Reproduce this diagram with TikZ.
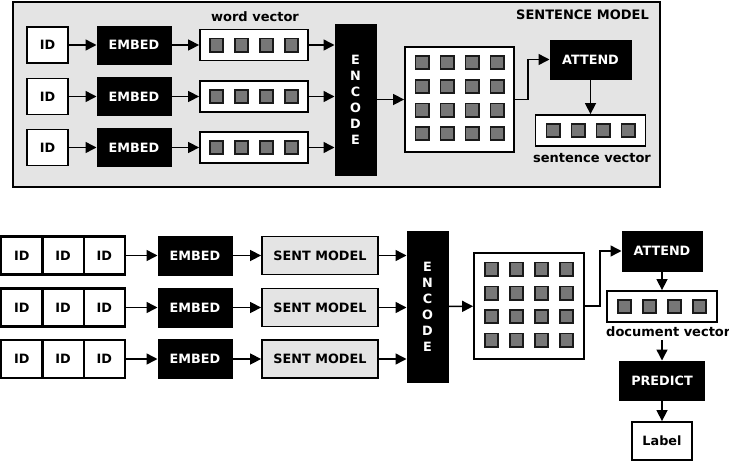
\documentclass[tikz,border=0pt]{standalone}
\usepackage{fontspec}
\setmainfont{DejaVu Sans}
\usetikzlibrary{arrows.meta,calc}
\definecolor{panel}{HTML}{E4E4E4}
\definecolor{sqfill}{HTML}{777777}
\definecolor{sqline}{HTML}{1A1A1A}
\tikzset{
  txt/.style={font=\bfseries\fontsize{12.8}{14}\selectfont},
  wbox/.style={txt, draw=black, line width=1.8pt, fill=white, inner sep=0pt},
  bbox/.style={txt, draw=black, line width=1pt, fill=black, text=white, inner sep=0pt},
  gbox/.style={txt, draw=black, line width=1.8pt, fill=panel, inner sep=0pt},
  sqr/.style={draw=sqline, fill=sqfill, line width=1.8pt, minimum size=13.2pt, inner sep=0pt},
  arr/.style={line width=1.5pt, -{Triangle[length=11pt,width=11pt]}},
  lbl/.style={font=\bfseries\fontsize{13}{15}\selectfont, inner sep=0pt},
  vtxt/.style={align=center, font=\bfseries\fontsize{12.8}{16}\selectfont},
}
\begin{document}
\begin{tikzpicture}[x=1pt,y=-1pt]
\useasboundingbox (0,0) rectangle (729,461);
\fill[white] (0,0) rectangle (729,461);
% ---------- sentence model panel ----------
\node[draw=black, line width=1.8pt, fill=panel, minimum width=647pt, minimum height=185pt, inner sep=0pt] (panel) at (336.5,94.5) {};
\node[lbl, anchor=east] (smtitle) at (649,15) {SENTENCE MODEL};
\node[lbl] (wvlabel) at (255,17) {word vector};
\foreach \r/\y in {1/45,2/96.5,3/147.5}{
  \node[wbox, minimum width=41pt, minimum height=36pt] (id\r) at (47.5,\y) {ID};
  \node[bbox, minimum width=74pt, minimum height=38pt] (em\r) at (134,\y) {EMBED};
  \node[wbox, minimum width=108pt, minimum height=31pt] (wv\r) at (254,\y) {};
  \foreach \k/\dx in {1/-37.5,2/-12.5,3/12.5,4/37.5}
    \node[sqr] (wv\r s\k) at ($(wv\r.center)+(\dx,0)$) {};
}
\node[bbox, vtxt, minimum width=41pt, minimum height=151pt] (enc) at (355.5,99.5) {E\\N\\C\\O\\D\\E};
\node[wbox, minimum width=109pt, minimum height=105pt] (mat) at (459.5,99.5) {};
\foreach \i/\dy in {1/-37,2/-13,3/10.5,4/34}
  \foreach \k/\dx in {1/-37.5,2/-12.5,3/12.5,4/37.5}
    \node[sqr] (m\i\k) at ($(mat.center)+(\dx,\dy)$) {};
\node[bbox, minimum width=81pt, minimum height=39pt] (att) at (590.5,59.5) {ATTEND};
\node[wbox, minimum width=110pt, minimum height=31pt] (sv) at (590.5,130.5) {};
\foreach \k/\dx in {1/-37.5,2/-12.5,3/12.5,4/37.5}
  \node[sqr] (svs\k) at ($(sv.center)+(\dx,0)$) {};
\node[lbl] (svlabel) at (592,158) {sentence vector};
\foreach \r in {1,2,3}{
  \draw[arr] (id\r) -- (em\r);
  \draw[arr] (em\r) -- (wv\r);
  \draw[arr] (wv\r.east) -- (wv\r.east -| enc.west);
}
\draw[arr] (enc) -- (mat);
\coordinate (c1) at ($(mat.east)+(13,0)$);
\draw[arr] (mat.east) -- (c1) |- (att.west);
\draw[arr] (att) -- (sv);
% ---------- document model ----------
\foreach \r/\y in {1/255.5,2/307.5,3/359}{
  \node[wbox, line width=2.3pt, minimum width=41.3pt, minimum height=38pt] (a\r) at (21.7,\y) {ID};
  \node[wbox, line width=2.3pt, minimum width=41.3pt, minimum height=38pt] (b\r) at (63,\y) {ID};
  \node[wbox, line width=2.3pt, minimum width=41.3pt, minimum height=38pt] (c\r) at (104.3,\y) {ID};
  \node[bbox, minimum width=74pt, minimum height=39pt] (de\r) at (195,\y) {EMBED};
  \node[gbox, minimum width=116pt, minimum height=38pt] (sm\r) at (320,\y) {SENT MODEL};
  \draw[arr] (c\r) -- (de\r);
  \draw[arr] (de\r) -- (sm\r);
}
\node[bbox, vtxt, minimum width=41pt, minimum height=151pt] (denc) at (427.5,306.5) {E\\N\\C\\O\\D\\E};
\foreach \r in {1,2,3}
  \draw[arr] (sm\r.east) -- (sm\r.east -| denc.west);
\node[wbox, minimum width=110pt, minimum height=106pt] (dmat) at (529,306) {};
\foreach \i/\dy in {1/-37,2/-13,3/10.5,4/34}
  \foreach \k/\dx in {1/-37.5,2/-12.5,3/12.5,4/37.5}
    \node[sqr] (dm\i\k) at ($(dmat.center)+(\dx,\dy)$) {};
\draw[arr] (denc) -- (dmat);
\node[bbox, minimum width=80pt, minimum height=40pt] (datt) at (662,251) {ATTEND};
\coordinate (c2) at ($(dmat.east)+(15,0)$);
\draw[arr] (dmat.east) -- (c2) |- (datt.west);
\node[wbox, minimum width=110pt, minimum height=31pt] (dv) at (662,306.5) {};
\foreach \k/\dx in {1/-37.5,2/-12.5,3/12.5,4/37.5}
  \node[sqr] (dvs\k) at ($(dv.center)+(\dx,0)$) {};
\draw[arr] (datt) -- (dv);
\node[lbl, anchor=west] (dvlabel) at (606,332) {document vector};
\node[bbox, minimum width=85pt, minimum height=39pt] (pred) at (662,380.5) {PREDICT};
\node[wbox, minimum width=60pt, minimum height=38pt] (lab) at (662,441) {Label};
\coordinate (c3) at (662,340);
\draw[arr] (c3) -- (pred.north);
\draw[arr] (pred) -- (lab);
\end{tikzpicture}
\end{document}
